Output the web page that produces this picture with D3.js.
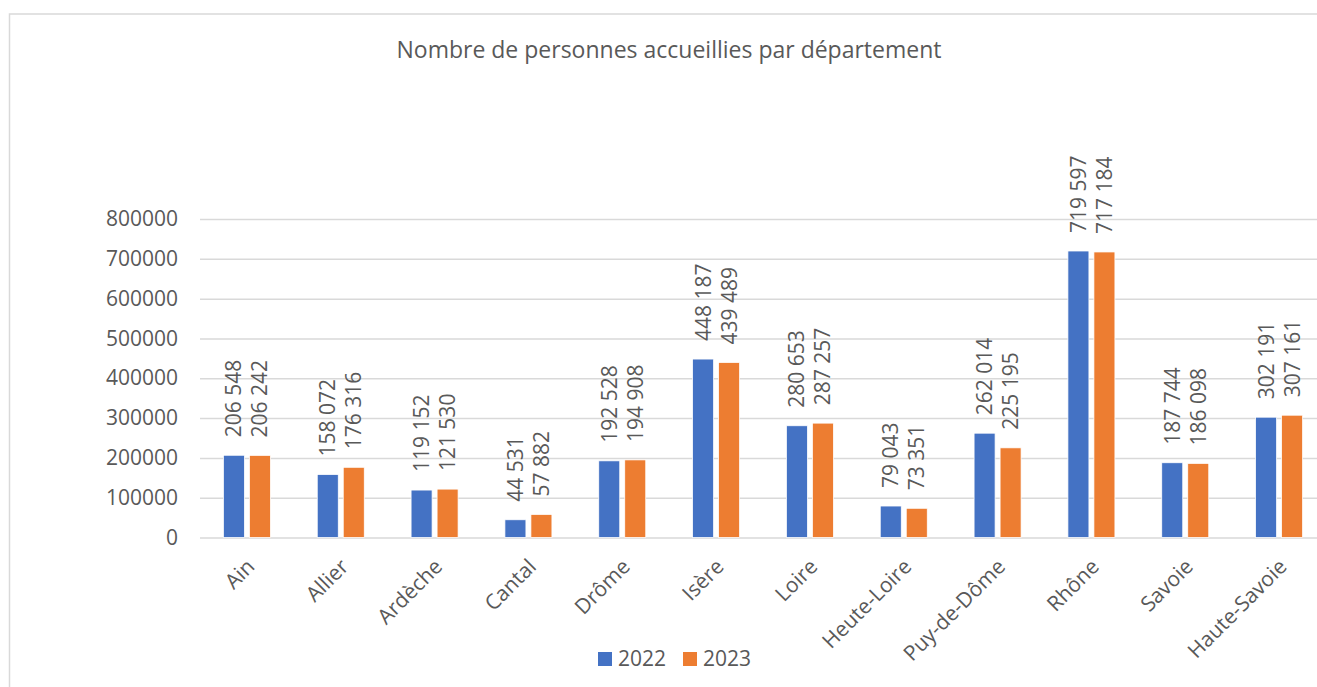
<!DOCTYPE html>
<html>
<head>
<meta charset="utf-8">
<script src="https://cdnjs.cloudflare.com/ajax/libs/d3/7.8.5/d3.min.js"></script>
<style>
  body { margin: 0; background: #fff; }
  text { font-family: "Open Sans", "Noto Sans", sans-serif; fill: #595959; }
</style>
</head>
<body>
<div id="chart"></div>
<script>
// data
var departements = ["Ain", "Allier", "Ardèche", "Cantal", "Drôme", "Isère", "Loire",
  "Heute-Loire", "Puy-de-Dôme", "Rhône", "Savoie", "Haute-Savoie"];
var annees = ["2022", "2023"];
var values2022 = [206548, 158072, 119152, 44531, 192528, 448187, 280653, 79043, 262014, 719597, 187744, 302191];
var values2023 = [206242, 176316, 121530, 57882, 194908, 439489, 287257, 73351, 225195, 717184, 186098, 307161];
var yTicks = [0, 100000, 200000, 300000, 400000, 500000, 600000, 700000, 800000];
var titre = "Nombre de personnes accueillies par département";

var couleurs = { "2022": "#4472C4", "2023": "#ED7D31" };

var svgWidth = 1317;
var svgHeight = 687;

var svg = d3.select("#chart")
  .append("svg")
  .attr("width", svgWidth)
  .attr("height", svgHeight);

// chart frame (cut off on the right and bottom like the screenshot)
svg.append("rect")
  .attr("x", 9.5)
  .attr("y", 14)
  .attr("width", 1340)
  .attr("height", 700)
  .attr("fill", "none")
  .attr("stroke", "#d9d9d9")
  .attr("stroke-width", 1.5);

svg.append("text")
  .attr("x", 669)
  .attr("y", 58)
  .attr("text-anchor", "middle")
  .style("font-size", "23px")
  .text(titre);

var xScale = d3.scaleBand()
  .domain(departements)
  .range([200, 1326]);

var xInner = d3.scaleBand()
  .domain(annees)
  .range([0, 47])
  .paddingInner(0.1923);

var yScale = d3.scaleLinear()
  .domain([0, 800000])
  .range([537.5, 219]);

// gridlines + y labels
var leftAxis = d3.axisLeft(yScale)
  .tickValues(yTicks)
  .tickFormat(d3.format("d"))
  .tickSize(-(1326 - 200))
  .tickPadding(22);

var yAxis = svg.append("g")
  .attr("transform", "translate(200,0)")
  .call(leftAxis);

yAxis.select(".domain").remove();
yAxis.selectAll(".tick line")
  .attr("stroke", "#d9d9d9")
  .attr("stroke-width", 1.5);
yAxis.selectAll(".tick text")
  .attr("fill", "#595959")
  .style("font-size", "21px")
  .style("font-family", "'Open Sans', sans-serif");

var fr = d3.formatLocale({ decimal: ",", thousands: " ", grouping: [3], currency: ["", " €"] });
var fmt = fr.format(",d");

var series = annees.map(function(a, i) {
  var vals = i === 0 ? values2022 : values2023;
  return departements.map(function(d, j) {
    return { dep: d, annee: a, value: vals[j] };
  });
});

var groups = svg.selectAll("g.serie")
  .data(series)
  .enter()
  .append("g")
  .attr("class", "serie");

var barOffset = function(d) {
  return xScale(d.dep) + xScale.bandwidth() / 2 - 23.5 + xInner(d.annee);
};

groups.selectAll("rect")
  .data(function(d) { return d; })
  .enter()
  .append("rect")
  .attr("x", barOffset)
  .attr("y", function(d) { return yScale(d.value); })
  .attr("width", xInner.bandwidth())
  .attr("height", function(d) { return yScale(0) - yScale(d.value); })
  .attr("fill", function(d) { return couleurs[d.annee]; })
  .attr("stroke", "#fff")
  .attr("stroke-width", 0.75);

// value labels, rotated
groups.selectAll("text")
  .data(function(d) { return d; })
  .enter()
  .append("text")
  .attr("transform", function(d) {
    var cx = barOffset(d) + xInner.bandwidth() / 2;
    return "translate(" + cx + "," + (yScale(d.value) - 18) + ") rotate(-90)";
  })
  .attr("dy", "0.36em")
  .style("font-size", "21px")
  .text(function(d) { return fmt(d.value); });

// category labels at -45deg
svg.selectAll("text.cat")
  .data(departements)
  .enter()
  .append("text")
  .attr("class", "cat")
  .attr("transform", function(d) {
    var cx = xScale(d) + xScale.bandwidth() / 2;
    return "translate(" + (cx + 9) + "," + 568 + ") rotate(-45)";
  })
  .attr("text-anchor", "end")
  .style("font-size", "21px")
  .text(function(d) { return d; });

// legend
var legend = svg.append("g");
var legendX = [598, 683];
annees.forEach(function(a, i) {
  legend.append("rect")
    .attr("x", legendX[i])
    .attr("y", 652)
    .attr("width", 14)
    .attr("height", 14)
    .attr("fill", couleurs[a]);
  legend.append("text")
    .attr("x", legendX[i] + 20)
    .attr("y", 666)
    .style("font-size", "21px")
    .text(a);
});
</script>
</body>
</html>
